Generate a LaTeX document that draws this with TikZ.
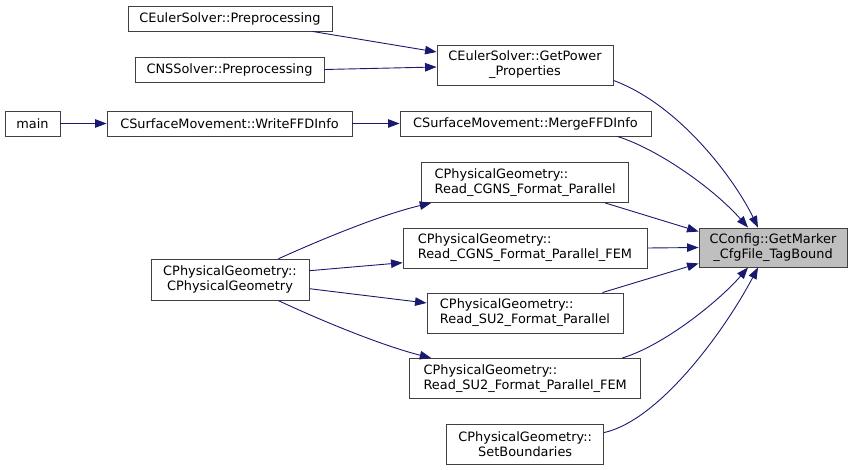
\documentclass[tikz,border=0pt]{standalone}
\usepackage{fontspec}
\setmainfont{DejaVu Sans}
\usetikzlibrary{arrows.meta}
\definecolor{edgec}{RGB}{25,25,112}
\definecolor{boxc}{RGB}{64,64,64}
\definecolor{hl}{RGB}{191,191,191}
\tikzset{
  box/.style={draw=boxc, line width=0.9pt, inner sep=0pt, font=\fontsize{12.9}{15}\selectfont, text=black, fill=white},
  calr/.style={draw=edgec, line width=0.9pt, -{Triangle[length=11.5pt,width=8.5pt]}}
}
\begin{document}
\begin{tikzpicture}[x=1pt,y=-1pt]
\useasboundingbox (0,0) rectangle (852,470);
\node[box, minimum width=204pt, minimum height=25pt] (eup) at (230,18.5) {CEulerSolver::Preprocessing};
\node[box, minimum width=189pt, minimum height=25pt] (nsp) at (229.5,69.5) {CNSSolver::Preprocessing};
\node[box, minimum width=55pt, minimum height=25pt] (main) at (32.5,123.5) {main};
\node[box, minimum width=245pt, minimum height=25pt] (wffd) at (229.5,123.5) {CSurfaceMovement::WriteFFDInfo};
\node[box, minimum width=176pt, minimum height=40pt, align=center] (gp) at (525,65) {CEulerSolver::GetPower\\\_Properties};
\node[box, minimum width=251pt, minimum height=25pt] (mffd) at (525.5,123.5) {CSurfaceMovement::MergeFFDInfo};
\node[box, fill=hl, minimum width=148pt, minimum height=39pt, align=center] (cc) at (773,247.5) {CConfig::GetMarker\\\_CfgFile\_TagBound};
\node[box, minimum width=207pt, minimum height=40pt, align=left] (rcp) at (525.2,182.5) {CPhysicalGeometry::\\Read\_CGNS\_Format\_Parallel};
\node[box, minimum width=244pt, minimum height=40pt, align=left] (rcf) at (525,248) {CPhysicalGeometry::\\Read\_CGNS\_Format\_Parallel\_FEM};
\node[box, minimum width=196pt, minimum height=40pt, align=left] (rsp) at (525,313) {CPhysicalGeometry::\\Read\_SU2\_Format\_Parallel};
\node[box, minimum width=231pt, minimum height=40pt, align=left] (rsf) at (525.2,378.5) {CPhysicalGeometry::\\Read\_SU2\_Format\_Parallel\_FEM};
\node[box, minimum width=157pt, minimum height=40pt, align=center] (sb) at (525.2,444) {CPhysicalGeometry::\\SetBoundaries};
\node[box, minimum width=158pt, minimum height=41pt, align=center] (cpg) at (230,279.7) {CPhysicalGeometry::\\CPhysicalGeometry};

\draw[calr] ([xshift=-20pt]eup.south east) -- ([yshift=13pt]gp.west);
\draw[calr] (nsp.east) -- ([yshift=-2pt]gp.west);
\draw[calr] (main.east) -- (wffd.west);
\draw[calr] (wffd.east) -- (mffd.west);
\draw[calr] ([yshift=5pt]gp.south east) .. controls (680,105) and (735,180) .. ([xshift=-15pt]cc.north);
\draw[calr] ([xshift=-34pt]mffd.south east) .. controls (660,150) and (715,190) .. ([xshift=-25pt]cc.north);
\draw[calr] ([xshift=-24pt]rcp.south east) -- ([yshift=-4pt]cc.north west);
\draw[calr] (rcf.east) -- (cc.west);
\draw[calr] ([xshift=-21pt]rsp.north east) -- ([yshift=4pt]cc.south west);
\draw[calr] ([xshift=-19pt]rsf.north east) .. controls (665,345) and (720,300) .. ([xshift=-25pt]cc.south);
\draw[calr] ([yshift=-9pt]sb.north east) .. controls (660,420) and (725,330) .. ([xshift=-15pt]cc.south);
\draw[calr] ([xshift=-31pt]cpg.north east) .. controls (320,240) and (380,215) .. ([xshift=10pt]rcp.south west);
\draw[calr] ([yshift=9pt]cpg.east) -- ([yshift=-14.7pt]rcf.west);
\draw[calr] ([yshift=-9pt]cpg.east) -- ([yshift=10pt]rsp.west);
\draw[calr] ([xshift=-31pt]cpg.south east) .. controls (320,320) and (380,345) .. ([xshift=22pt]rsf.north west);
\end{tikzpicture}
\end{document}
